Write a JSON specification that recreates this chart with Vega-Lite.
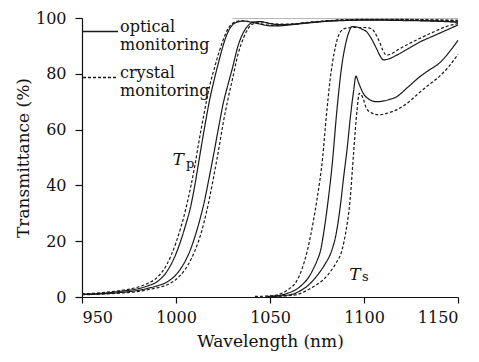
{
  "$schema": "https://vega.github.io/schema/vega-lite/v6.json",
  "width": 376,
  "height": 279,
  "autosize": {"type": "none"},
  "padding": {"left": 82, "top": 18, "right": 21, "bottom": 65},
  "background": "white",
  "config": {
    "view": {"stroke": null},
    "font": "DejaVu Serif",
    "axis": {
      "domainColor": "#111", "domainWidth": 1.2, "tickColor": "#111", "tickWidth": 1.2,
      "labelFont": "DejaVu Serif", "labelFontSize": 16, "labelColor": "#111",
      "titleFont": "DejaVu Serif", "titleFontSize": 17, "titleFontWeight": "normal", "titleColor": "#111",
      "grid": false
    }
  },
  "datasets": {
    "curves": [
      {"curve":"TpS1","method":"optical monitoring","wl":950,"T":1.0},{"curve":"TpS1","method":"optical monitoring","wl":960,"T":1.3},{"curve":"TpS1","method":"optical monitoring","wl":970,"T":2.0},{"curve":"TpS1","method":"optical monitoring","wl":980,"T":3.0},{"curve":"TpS1","method":"optical monitoring","wl":985,"T":4.0},{"curve":"TpS1","method":"optical monitoring","wl":990,"T":5.5},{"curve":"TpS1","method":"optical monitoring","wl":995,"T":9.0},{"curve":"TpS1","method":"optical monitoring","wl":1000,"T":15.5},{"curve":"TpS1","method":"optical monitoring","wl":1005,"T":25.5},{"curve":"TpS1","method":"optical monitoring","wl":1008,"T":33},{"curve":"TpS1","method":"optical monitoring","wl":1010,"T":40},{"curve":"TpS1","method":"optical monitoring","wl":1012,"T":48},{"curve":"TpS1","method":"optical monitoring","wl":1015,"T":60},{"curve":"TpS1","method":"optical monitoring","wl":1018,"T":71},{"curve":"TpS1","method":"optical monitoring","wl":1020,"T":77},{"curve":"TpS1","method":"optical monitoring","wl":1023,"T":85},{"curve":"TpS1","method":"optical monitoring","wl":1025,"T":90},{"curve":"TpS1","method":"optical monitoring","wl":1028,"T":95.5},{"curve":"TpS1","method":"optical monitoring","wl":1030,"T":97.5},{"curve":"TpS1","method":"optical monitoring","wl":1033,"T":98.6},{"curve":"TpS1","method":"optical monitoring","wl":1036,"T":98.9},{"curve":"TpS1","method":"optical monitoring","wl":1040,"T":98.5},{"curve":"TpS1","method":"optical monitoring","wl":1045,"T":97.8},{"curve":"TpS1","method":"optical monitoring","wl":1050,"T":97.2},{"curve":"TpS1","method":"optical monitoring","wl":1055,"T":97.2},{"curve":"TpS1","method":"optical monitoring","wl":1060,"T":97.5},{"curve":"TpS1","method":"optical monitoring","wl":1070,"T":98.2},{"curve":"TpS1","method":"optical monitoring","wl":1080,"T":98.8},{"curve":"TpS1","method":"optical monitoring","wl":1090,"T":99.1},{"curve":"TpS1","method":"optical monitoring","wl":1100,"T":99.2},{"curve":"TpS1","method":"optical monitoring","wl":1110,"T":99.2},{"curve":"TpS1","method":"optical monitoring","wl":1120,"T":99.1},{"curve":"TpS1","method":"optical monitoring","wl":1130,"T":99.0},{"curve":"TpS1","method":"optical monitoring","wl":1140,"T":98.8},{"curve":"TpS1","method":"optical monitoring","wl":1150,"T":98.5},

      {"curve":"TpD1","method":"crystal monitoring","wl":950,"T":1.1},{"curve":"TpD1","method":"crystal monitoring","wl":960,"T":1.5},{"curve":"TpD1","method":"crystal monitoring","wl":970,"T":2.3},{"curve":"TpD1","method":"crystal monitoring","wl":980,"T":3.6},{"curve":"TpD1","method":"crystal monitoring","wl":985,"T":4.9},{"curve":"TpD1","method":"crystal monitoring","wl":990,"T":7},{"curve":"TpD1","method":"crystal monitoring","wl":995,"T":11.5},{"curve":"TpD1","method":"crystal monitoring","wl":1000,"T":19.5},{"curve":"TpD1","method":"crystal monitoring","wl":1005,"T":31},{"curve":"TpD1","method":"crystal monitoring","wl":1008,"T":40},{"curve":"TpD1","method":"crystal monitoring","wl":1010,"T":47},{"curve":"TpD1","method":"crystal monitoring","wl":1012,"T":55},{"curve":"TpD1","method":"crystal monitoring","wl":1015,"T":66},{"curve":"TpD1","method":"crystal monitoring","wl":1018,"T":76},{"curve":"TpD1","method":"crystal monitoring","wl":1020,"T":81},{"curve":"TpD1","method":"crystal monitoring","wl":1023,"T":88},{"curve":"TpD1","method":"crystal monitoring","wl":1025,"T":92},{"curve":"TpD1","method":"crystal monitoring","wl":1028,"T":96.5},{"curve":"TpD1","method":"crystal monitoring","wl":1030,"T":98},{"curve":"TpD1","method":"crystal monitoring","wl":1033,"T":98.9},{"curve":"TpD1","method":"crystal monitoring","wl":1036,"T":99},{"curve":"TpD1","method":"crystal monitoring","wl":1040,"T":98.6},{"curve":"TpD1","method":"crystal monitoring","wl":1045,"T":97.9},{"curve":"TpD1","method":"crystal monitoring","wl":1050,"T":97.4},{"curve":"TpD1","method":"crystal monitoring","wl":1055,"T":97.3},{"curve":"TpD1","method":"crystal monitoring","wl":1060,"T":97.6},{"curve":"TpD1","method":"crystal monitoring","wl":1070,"T":98.3},{"curve":"TpD1","method":"crystal monitoring","wl":1080,"T":98.9},{"curve":"TpD1","method":"crystal monitoring","wl":1090,"T":99.3},{"curve":"TpD1","method":"crystal monitoring","wl":1100,"T":99.4},{"curve":"TpD1","method":"crystal monitoring","wl":1120,"T":99.4},{"curve":"TpD1","method":"crystal monitoring","wl":1140,"T":99.2},{"curve":"TpD1","method":"crystal monitoring","wl":1150,"T":99},

      {"curve":"TpS2","method":"optical monitoring","wl":950,"T":0.9},{"curve":"TpS2","method":"optical monitoring","wl":960,"T":1.1},{"curve":"TpS2","method":"optical monitoring","wl":970,"T":1.6},{"curve":"TpS2","method":"optical monitoring","wl":980,"T":2.4},{"curve":"TpS2","method":"optical monitoring","wl":985,"T":3.1},{"curve":"TpS2","method":"optical monitoring","wl":990,"T":4.0},{"curve":"TpS2","method":"optical monitoring","wl":995,"T":5.3},{"curve":"TpS2","method":"optical monitoring","wl":1000,"T":8.0},{"curve":"TpS2","method":"optical monitoring","wl":1005,"T":13},{"curve":"TpS2","method":"optical monitoring","wl":1008,"T":17.5},{"curve":"TpS2","method":"optical monitoring","wl":1010,"T":21.5},{"curve":"TpS2","method":"optical monitoring","wl":1012,"T":26},{"curve":"TpS2","method":"optical monitoring","wl":1015,"T":34},{"curve":"TpS2","method":"optical monitoring","wl":1018,"T":44},{"curve":"TpS2","method":"optical monitoring","wl":1020,"T":51},{"curve":"TpS2","method":"optical monitoring","wl":1023,"T":62},{"curve":"TpS2","method":"optical monitoring","wl":1025,"T":69},{"curve":"TpS2","method":"optical monitoring","wl":1028,"T":77},{"curve":"TpS2","method":"optical monitoring","wl":1030,"T":82},{"curve":"TpS2","method":"optical monitoring","wl":1033,"T":90},{"curve":"TpS2","method":"optical monitoring","wl":1036,"T":95},{"curve":"TpS2","method":"optical monitoring","wl":1039,"T":97.7},{"curve":"TpS2","method":"optical monitoring","wl":1042,"T":98.6},{"curve":"TpS2","method":"optical monitoring","wl":1045,"T":98.7},{"curve":"TpS2","method":"optical monitoring","wl":1050,"T":98},{"curve":"TpS2","method":"optical monitoring","wl":1055,"T":97.6},{"curve":"TpS2","method":"optical monitoring","wl":1060,"T":97.7},{"curve":"TpS2","method":"optical monitoring","wl":1070,"T":98.3},{"curve":"TpS2","method":"optical monitoring","wl":1080,"T":98.9},{"curve":"TpS2","method":"optical monitoring","wl":1090,"T":99.2},{"curve":"TpS2","method":"optical monitoring","wl":1100,"T":99.3},{"curve":"TpS2","method":"optical monitoring","wl":1110,"T":99.3},{"curve":"TpS2","method":"optical monitoring","wl":1120,"T":99.2},{"curve":"TpS2","method":"optical monitoring","wl":1130,"T":99.1},{"curve":"TpS2","method":"optical monitoring","wl":1140,"T":98.9},{"curve":"TpS2","method":"optical monitoring","wl":1150,"T":98.6},

      {"curve":"TpD2","method":"crystal monitoring","wl":950,"T":0.8},{"curve":"TpD2","method":"crystal monitoring","wl":960,"T":1.0},{"curve":"TpD2","method":"crystal monitoring","wl":970,"T":1.4},{"curve":"TpD2","method":"crystal monitoring","wl":980,"T":2.0},{"curve":"TpD2","method":"crystal monitoring","wl":985,"T":2.6},{"curve":"TpD2","method":"crystal monitoring","wl":990,"T":3.3},{"curve":"TpD2","method":"crystal monitoring","wl":995,"T":4.3},{"curve":"TpD2","method":"crystal monitoring","wl":1000,"T":6.3},{"curve":"TpD2","method":"crystal monitoring","wl":1005,"T":10},{"curve":"TpD2","method":"crystal monitoring","wl":1008,"T":13.5},{"curve":"TpD2","method":"crystal monitoring","wl":1010,"T":16.5},{"curve":"TpD2","method":"crystal monitoring","wl":1012,"T":20},{"curve":"TpD2","method":"crystal monitoring","wl":1015,"T":27},{"curve":"TpD2","method":"crystal monitoring","wl":1018,"T":36},{"curve":"TpD2","method":"crystal monitoring","wl":1020,"T":43},{"curve":"TpD2","method":"crystal monitoring","wl":1023,"T":54},{"curve":"TpD2","method":"crystal monitoring","wl":1025,"T":62},{"curve":"TpD2","method":"crystal monitoring","wl":1028,"T":72},{"curve":"TpD2","method":"crystal monitoring","wl":1030,"T":78},{"curve":"TpD2","method":"crystal monitoring","wl":1033,"T":87},{"curve":"TpD2","method":"crystal monitoring","wl":1036,"T":93},{"curve":"TpD2","method":"crystal monitoring","wl":1039,"T":96.8},{"curve":"TpD2","method":"crystal monitoring","wl":1042,"T":98.2},{"curve":"TpD2","method":"crystal monitoring","wl":1045,"T":98.6},{"curve":"TpD2","method":"crystal monitoring","wl":1050,"T":98.1},{"curve":"TpD2","method":"crystal monitoring","wl":1055,"T":97.8},{"curve":"TpD2","method":"crystal monitoring","wl":1060,"T":97.8},{"curve":"TpD2","method":"crystal monitoring","wl":1070,"T":98.4},{"curve":"TpD2","method":"crystal monitoring","wl":1080,"T":99},{"curve":"TpD2","method":"crystal monitoring","wl":1090,"T":99.4},{"curve":"TpD2","method":"crystal monitoring","wl":1100,"T":99.5},{"curve":"TpD2","method":"crystal monitoring","wl":1120,"T":99.5},{"curve":"TpD2","method":"crystal monitoring","wl":1140,"T":99.3},{"curve":"TpD2","method":"crystal monitoring","wl":1150,"T":99.2},

      {"curve":"TsD1","method":"crystal monitoring","wl":1042,"T":0.2},{"curve":"TsD1","method":"crystal monitoring","wl":1050,"T":0.4},{"curve":"TsD1","method":"crystal monitoring","wl":1055,"T":1},{"curve":"TsD1","method":"crystal monitoring","wl":1060,"T":2.8},{"curve":"TsD1","method":"crystal monitoring","wl":1064,"T":5.5},{"curve":"TsD1","method":"crystal monitoring","wl":1067,"T":10},{"curve":"TsD1","method":"crystal monitoring","wl":1070,"T":17},{"curve":"TsD1","method":"crystal monitoring","wl":1073,"T":27},{"curve":"TsD1","method":"crystal monitoring","wl":1075,"T":35},{"curve":"TsD1","method":"crystal monitoring","wl":1078,"T":50},{"curve":"TsD1","method":"crystal monitoring","wl":1080,"T":65},{"curve":"TsD1","method":"crystal monitoring","wl":1082,"T":78},{"curve":"TsD1","method":"crystal monitoring","wl":1084,"T":87},{"curve":"TsD1","method":"crystal monitoring","wl":1087,"T":94.5},{"curve":"TsD1","method":"crystal monitoring","wl":1090,"T":96.3},{"curve":"TsD1","method":"crystal monitoring","wl":1095,"T":96.6},{"curve":"TsD1","method":"crystal monitoring","wl":1100,"T":96.6},{"curve":"TsD1","method":"crystal monitoring","wl":1104,"T":96.2},{"curve":"TsD1","method":"crystal monitoring","wl":1106,"T":94.5},{"curve":"TsD1","method":"crystal monitoring","wl":1108.5,"T":91},{"curve":"TsD1","method":"crystal monitoring","wl":1110,"T":88.5},{"curve":"TsD1","method":"crystal monitoring","wl":1112,"T":86.7},{"curve":"TsD1","method":"crystal monitoring","wl":1115,"T":87.3},{"curve":"TsD1","method":"crystal monitoring","wl":1118,"T":88.6},{"curve":"TsD1","method":"crystal monitoring","wl":1124,"T":90.8},{"curve":"TsD1","method":"crystal monitoring","wl":1130,"T":92.8},{"curve":"TsD1","method":"crystal monitoring","wl":1137,"T":95},{"curve":"TsD1","method":"crystal monitoring","wl":1144,"T":97},{"curve":"TsD1","method":"crystal monitoring","wl":1150,"T":98},

      {"curve":"TsS1","method":"optical monitoring","wl":1048,"T":0.2},{"curve":"TsS1","method":"optical monitoring","wl":1055,"T":0.6},{"curve":"TsS1","method":"optical monitoring","wl":1060,"T":1.5},{"curve":"TsS1","method":"optical monitoring","wl":1065,"T":3.2},{"curve":"TsS1","method":"optical monitoring","wl":1068,"T":5},{"curve":"TsS1","method":"optical monitoring","wl":1070,"T":6.5},{"curve":"TsS1","method":"optical monitoring","wl":1073,"T":10},{"curve":"TsS1","method":"optical monitoring","wl":1075,"T":13},{"curve":"TsS1","method":"optical monitoring","wl":1077,"T":17},{"curve":"TsS1","method":"optical monitoring","wl":1079,"T":25},{"curve":"TsS1","method":"optical monitoring","wl":1081,"T":35},{"curve":"TsS1","method":"optical monitoring","wl":1083,"T":47},{"curve":"TsS1","method":"optical monitoring","wl":1085.6,"T":67},{"curve":"TsS1","method":"optical monitoring","wl":1088,"T":82},{"curve":"TsS1","method":"optical monitoring","wl":1090,"T":90},{"curve":"TsS1","method":"optical monitoring","wl":1092,"T":95},{"curve":"TsS1","method":"optical monitoring","wl":1093.5,"T":96.9},{"curve":"TsS1","method":"optical monitoring","wl":1096,"T":96.8},{"curve":"TsS1","method":"optical monitoring","wl":1099,"T":96},{"curve":"TsS1","method":"optical monitoring","wl":1101.5,"T":95},{"curve":"TsS1","method":"optical monitoring","wl":1104,"T":92.5},{"curve":"TsS1","method":"optical monitoring","wl":1106.7,"T":89},{"curve":"TsS1","method":"optical monitoring","wl":1108.5,"T":86.5},{"curve":"TsS1","method":"optical monitoring","wl":1110.3,"T":85},{"curve":"TsS1","method":"optical monitoring","wl":1113,"T":85.3},{"curve":"TsS1","method":"optical monitoring","wl":1117.4,"T":86.7},{"curve":"TsS1","method":"optical monitoring","wl":1124,"T":89.2},{"curve":"TsS1","method":"optical monitoring","wl":1130,"T":91.5},{"curve":"TsS1","method":"optical monitoring","wl":1135,"T":93},{"curve":"TsS1","method":"optical monitoring","wl":1140,"T":94.5},{"curve":"TsS1","method":"optical monitoring","wl":1145,"T":96},{"curve":"TsS1","method":"optical monitoring","wl":1150,"T":97.5},

      {"curve":"TsS2","method":"optical monitoring","wl":1050,"T":0.2},{"curve":"TsS2","method":"optical monitoring","wl":1057,"T":0.5},{"curve":"TsS2","method":"optical monitoring","wl":1062,"T":1},{"curve":"TsS2","method":"optical monitoring","wl":1066,"T":2.2},{"curve":"TsS2","method":"optical monitoring","wl":1070,"T":4},{"curve":"TsS2","method":"optical monitoring","wl":1073,"T":6},{"curve":"TsS2","method":"optical monitoring","wl":1076,"T":8.5},{"curve":"TsS2","method":"optical monitoring","wl":1079,"T":11.5},{"curve":"TsS2","method":"optical monitoring","wl":1083,"T":17},{"curve":"TsS2","method":"optical monitoring","wl":1085,"T":22},{"curve":"TsS2","method":"optical monitoring","wl":1087.8,"T":34.8},{"curve":"TsS2","method":"optical monitoring","wl":1089,"T":42},{"curve":"TsS2","method":"optical monitoring","wl":1091,"T":53},{"curve":"TsS2","method":"optical monitoring","wl":1093,"T":66},{"curve":"TsS2","method":"optical monitoring","wl":1094.5,"T":74},{"curve":"TsS2","method":"optical monitoring","wl":1095.7,"T":79.2},{"curve":"TsS2","method":"optical monitoring","wl":1097,"T":77},{"curve":"TsS2","method":"optical monitoring","wl":1099.6,"T":73},{"curve":"TsS2","method":"optical monitoring","wl":1102,"T":71.2},{"curve":"TsS2","method":"optical monitoring","wl":1106.7,"T":70},{"curve":"TsS2","method":"optical monitoring","wl":1110,"T":70.2},{"curve":"TsS2","method":"optical monitoring","wl":1113,"T":70.7},{"curve":"TsS2","method":"optical monitoring","wl":1117.4,"T":71.8},{"curve":"TsS2","method":"optical monitoring","wl":1123,"T":75},{"curve":"TsS2","method":"optical monitoring","wl":1129.8,"T":79},{"curve":"TsS2","method":"optical monitoring","wl":1135,"T":81.5},{"curve":"TsS2","method":"optical monitoring","wl":1140.4,"T":84},{"curve":"TsS2","method":"optical monitoring","wl":1145,"T":87.5},{"curve":"TsS2","method":"optical monitoring","wl":1150,"T":92},

      {"curve":"TsD2","method":"crystal monitoring","wl":1052,"T":0.2},{"curve":"TsD2","method":"crystal monitoring","wl":1060,"T":0.5},{"curve":"TsD2","method":"crystal monitoring","wl":1065,"T":1},{"curve":"TsD2","method":"crystal monitoring","wl":1070,"T":2.5},{"curve":"TsD2","method":"crystal monitoring","wl":1075,"T":4.5},{"curve":"TsD2","method":"crystal monitoring","wl":1078,"T":6},{"curve":"TsD2","method":"crystal monitoring","wl":1082,"T":9},{"curve":"TsD2","method":"crystal monitoring","wl":1085,"T":12},{"curve":"TsD2","method":"crystal monitoring","wl":1088.3,"T":16.8},{"curve":"TsD2","method":"crystal monitoring","wl":1090.5,"T":24},{"curve":"TsD2","method":"crystal monitoring","wl":1092.6,"T":34.8},{"curve":"TsD2","method":"crystal monitoring","wl":1094.5,"T":52},{"curve":"TsD2","method":"crystal monitoring","wl":1096.3,"T":67},{"curve":"TsD2","method":"crystal monitoring","wl":1097.5,"T":73},{"curve":"TsD2","method":"crystal monitoring","wl":1099,"T":72},{"curve":"TsD2","method":"crystal monitoring","wl":1101.4,"T":67.5},{"curve":"TsD2","method":"crystal monitoring","wl":1104,"T":66},{"curve":"TsD2","method":"crystal monitoring","wl":1108,"T":65.3},{"curve":"TsD2","method":"crystal monitoring","wl":1112,"T":65.8},{"curve":"TsD2","method":"crystal monitoring","wl":1119,"T":67.7},{"curve":"TsD2","method":"crystal monitoring","wl":1124,"T":70},{"curve":"TsD2","method":"crystal monitoring","wl":1128,"T":72.4},{"curve":"TsD2","method":"crystal monitoring","wl":1134,"T":75.8},{"curve":"TsD2","method":"crystal monitoring","wl":1140,"T":79},{"curve":"TsD2","method":"crystal monitoring","wl":1145,"T":82.5},{"curve":"TsD2","method":"crystal monitoring","wl":1150,"T":87}
    ],
    "top": [
      {"wl": 1030, "T": 99.8},
      {"wl": 1150, "T": 99.8}
    ],
    "symbols": [
      {"wl": 1001.1, "T": 47.3, "label": "T"},
      {"wl": 1095.2, "T": 6.1, "label": "T"}
    ],
    "subs": [
      {"wl": 1005.3, "T": 46.2, "label": "p"},
      {"wl": 1098.9, "T": 5.7, "label": "s"}
    ]
  },
  "layer": [
    {
      "data": {"name": "top"},
      "mark": {"type": "line", "stroke": "#b5b5b5", "strokeWidth": 1},
      "encoding": {
        "x": {"field": "wl", "type": "quantitative"},
        "y": {"field": "T", "type": "quantitative"}
      }
    },
    {
      "data": {"name": "curves"},
      "mark": {"type": "line", "stroke": "#1a1a1a", "strokeWidth": 1.2, "interpolate": "monotone"},
      "encoding": {
        "x": {
          "field": "wl", "type": "quantitative",
          "scale": {"domain": [950, 1150], "nice": false, "zero": false},
          "axis": {"values": [950, 1000, 1050, 1100, 1150], "format": "d", "tickSize": 6, "labelPadding": 6,
                   "labelFont": "DejaVu Serif", "titleFont": "DejaVu Serif",
                   "title": "Wavelength (nm)", "titlePadding": 8}
        },
        "y": {
          "field": "T", "type": "quantitative",
          "scale": {"domain": [0, 100], "nice": false},
          "axis": {"values": [0, 20, 40, 60, 80, 100], "format": "d", "tickSize": 7, "labelPadding": 9,
                   "labelFont": "DejaVu Serif", "titleFont": "DejaVu Serif",
                   "title": "Transmittance (%)", "titlePadding": 3}
        },
        "detail": {"field": "curve"},
        "strokeDash": {
          "field": "method", "type": "nominal",
          "scale": {"domain": ["optical monitoring", "crystal monitoring"], "range": [[1, 0], [3, 2]]},
          "legend": {
            "title": null, "orient": "none", "legendX": 0, "legendY": -5, "padding": 0,
            "symbolType": "stroke", "symbolSize": 1225, "symbolStrokeWidth": 1.4, "symbolStrokeColor": "#1a1a1a",
            "labelFont": "DejaVu Serif", "labelFontSize": 16, "labelColor": "#111", "labelBaseline": "alphabetic",
            "labelLimit": 0, "labelOffset": 1, "rowPadding": 6,
            "labelExpr": "split(datum.label, ' ')"
          }
        }
      }
    },
    {
      "data": {"name": "symbols"},
      "mark": {"type": "text", "font": "DejaVu Serif", "fontStyle": "italic", "fontSize": 17, "align": "center", "baseline": "alphabetic", "color": "#111"},
      "encoding": {
        "x": {"field": "wl", "type": "quantitative"},
        "y": {"field": "T", "type": "quantitative"},
        "text": {"field": "label"}
      }
    },
    {
      "data": {"name": "subs"},
      "mark": {"type": "text", "font": "DejaVu Serif", "fontSize": 13, "align": "left", "baseline": "alphabetic", "color": "#111"},
      "encoding": {
        "x": {"field": "wl", "type": "quantitative"},
        "y": {"field": "T", "type": "quantitative"},
        "text": {"field": "label"}
      }
    }
  ]
}
